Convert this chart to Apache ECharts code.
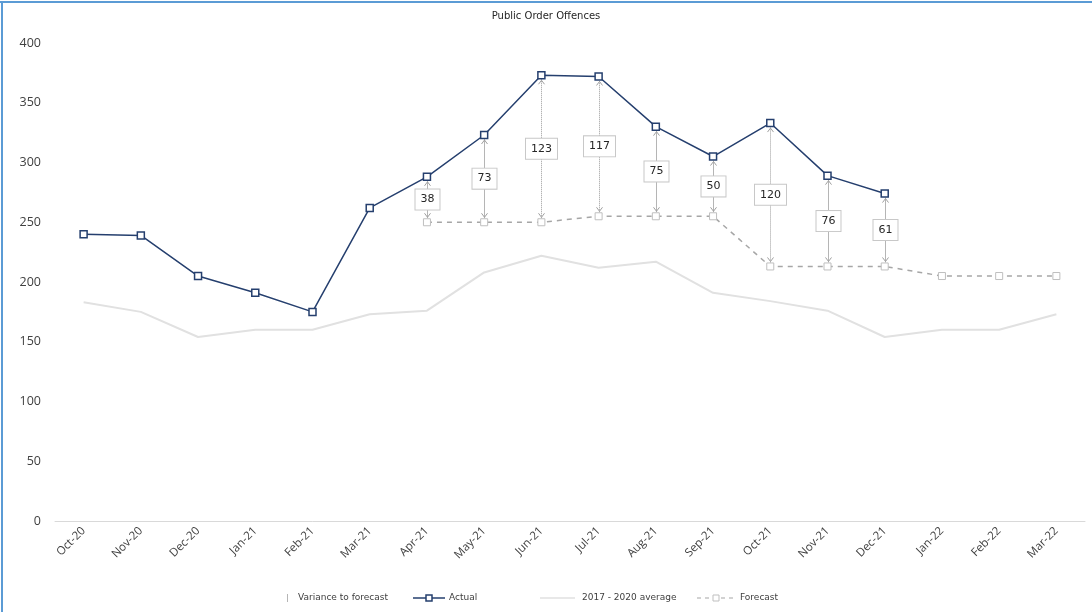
<!DOCTYPE html>
<html>
<head>
<meta charset="utf-8">
<title>Public Order Offences</title>
<script src="https://cdn.jsdelivr.net/npm/echarts@6/dist/echarts.min.js"></script>
<style>
  html, body { margin: 0; padding: 0; background: #ffffff; }
  #chart { width: 1092px; height: 612px; }
</style>
</head>
<body>
<div id="chart"></div>
<script>
// Monthly categories
const months = ['Oct-20', 'Nov-20', 'Dec-20', 'Jan-21', 'Feb-21', 'Mar-21', 'Apr-21', 'May-21', 'Jun-21',
  'Jul-21', 'Aug-21', 'Sep-21', 'Oct-21', 'Nov-21', 'Dec-21', 'Jan-22', 'Feb-22', 'Mar-22'];

// Recorded offences
const actual = [240, 239, 205, 191, 175, 262, 288, 323, 373, 372, 330, 305, 333, 289, 274, null, null, null];

// Forecast values
const forecast = [null, null, null, null, null, null, 250, 250, 250, 255, 255, 255, 213, 213, 213, 205, 205, 205];

// 2017 - 2020 average
const average = [183, 175, 154, 160, 160, 173, 176, 208, 222, 212, 217, 191, 184, 176, 154, 160, 160, 173];

// Variance to forecast (actual minus forecast), by month index
const varianceMonths = [6, 7, 8, 9, 10, 11, 12, 13, 14];
const variance = [38, 73, 123, 117, 75, 50, 120, 76, 61];

// Y axis ticks
const yTicks = [0, 50, 100, 150, 200, 250, 300, 350, 400];

const navy = '#253f6e';
const grey = '#a6a6a6';
const lightGrey = '#e1e1e1';
const textGrey = '#404040';

const varianceData = varianceMonths.map((m, k) => [m, forecast[m], variance[k]]);

function renderVariance(params, api) {
  const idx = api.value(0);
  const base = api.value(1);
  const diff = api.value(2);
  const p1 = api.coord([idx, base]);
  const p2 = api.coord([idx, base + diff]);
  const x = Math.round(p1[0]) + 0.5;
  const dotted = diff >= 100;
  const lineStyle = { stroke: dotted ? '#9a9a9a' : '#b5b5b5', lineWidth: 1, lineDash: dotted ? [1, 1] : null };
  const midY = (p1[1] + p2[1]) / 2;
  return {
    type: 'group',
    children: [
      { type: 'line', shape: { x1: x, y1: p1[1] - 4, x2: x, y2: p2[1] + 4 }, style: lineStyle },
      { type: 'polyline', shape: { points: [[x - 3, p2[1] + 9], [x, p2[1] + 5], [x + 3, p2[1] + 9]] },
        style: { stroke: '#a0a0a0', lineWidth: 1, fill: null } },
      { type: 'polyline', shape: { points: [[x - 3, p1[1] - 9], [x, p1[1] - 5], [x + 3, p1[1] - 9]] },
        style: { stroke: '#a0a0a0', lineWidth: 1, fill: null } },
      {
        type: 'text',
        x: x,
        y: midY,
        style: {
          text: String(diff),
          align: 'center',
          verticalAlign: 'middle',
          fill: '#262626',
          font: '11px "DejaVu Sans"',
          backgroundColor: '#ffffff',
          borderColor: '#c8c8c8',
          borderWidth: 1,
          padding: [5, 5, 4, 5]
        }
      }
    ]
  };
}

// Legend drawn as graphic items along the bottom
const legendY = 598;
const legendFont = '9px "DejaVu Sans"';
const legendItems = [
  { type: 'line', shape: { x1: 287.5, y1: 594, x2: 287.5, y2: 602 }, style: { stroke: '#b5b5b5', lineWidth: 1 } },
  { type: 'text', x: 298, y: legendY, style: { text: 'Variance to forecast', font: legendFont, fill: textGrey, verticalAlign: 'middle' } },
  { type: 'line', shape: { x1: 413, y1: legendY, x2: 445, y2: legendY }, style: { stroke: navy, lineWidth: 1.5 } },
  { type: 'rect', shape: { x: 426, y: legendY - 3, width: 6, height: 6 }, style: { fill: '#fff', stroke: navy, lineWidth: 1.5 } },
  { type: 'text', x: 449, y: legendY, style: { text: 'Actual', font: legendFont, fill: textGrey, verticalAlign: 'middle' } },
  { type: 'line', shape: { x1: 540, y1: legendY, x2: 575, y2: legendY }, style: { stroke: lightGrey, lineWidth: 1.5 } },
  { type: 'text', x: 582, y: legendY, style: { text: '2017 - 2020 average', font: legendFont, fill: textGrey, verticalAlign: 'middle' } },
  { type: 'line', shape: { x1: 697, y1: legendY, x2: 735, y2: legendY }, style: { stroke: grey, lineWidth: 1, lineDash: [4, 4] } },
  { type: 'rect', shape: { x: 713, y: legendY - 3, width: 6, height: 6 }, style: { fill: '#fff', stroke: '#bfbfbf', lineWidth: 1 } },
  { type: 'text', x: 740, y: legendY, style: { text: 'Forecast', font: legendFont, fill: textGrey, verticalAlign: 'middle' } }
];

// Frame edges (left and top)
const frame = [
  { type: 'line', shape: { x1: 0, y1: 2, x2: 1092, y2: 2 }, style: { stroke: '#5b9bd5', lineWidth: 2 } },
  { type: 'line', shape: { x1: 2, y1: 1, x2: 2, y2: 612 }, style: { stroke: '#5b9bd5', lineWidth: 2 } }
];

const chart = echarts.init(document.getElementById('chart'), null, { renderer: 'canvas' });

chart.setOption({
  animation: false,
  backgroundColor: '#ffffff',
  title: {
    text: 'Public Order Offences',
    left: 'center',
    top: 6,
    textStyle: { fontFamily: 'DejaVu Sans', fontSize: 10, fontWeight: 'normal', color: '#262626' }
  },
  grid: { left: 55, right: 7, top: 43, bottom: 91, containLabel: false },
  xAxis: {
    type: 'category',
    data: months,
    boundaryGap: true,
    axisLine: { lineStyle: { color: '#d9d9d9', width: 1 } },
    axisTick: { show: false },
    axisLabel: {
      rotate: 45,
      interval: 0,
      margin: 8,
      color: textGrey,
      fontFamily: 'Open Sans',
      fontSize: 11.5
    },
    splitLine: { show: false }
  },
  yAxis: {
    type: 'value',
    min: yTicks[0],
    max: yTicks[yTicks.length - 1],
    interval: 50,
    axisLine: { show: false },
    axisTick: { show: false },
    splitLine: { show: false },
    axisLabel: { color: textGrey, fontFamily: 'Open Sans', fontSize: 12.5, margin: 14 }
  },
  series: [
    {
      name: '2017 - 2020 average',
      type: 'line',
      data: average,
      symbol: 'none',
      lineStyle: { color: lightGrey, width: 2 },
      z: 1
    },
    {
      name: 'Variance to forecast',
      type: 'custom',
      data: varianceData,
      encode: { x: 0, y: [1, 2] },
      renderItem: renderVariance,
      z: 2
    },
    {
      name: 'Forecast',
      type: 'line',
      data: forecast,
      symbol: 'rect',
      symbolSize: 7,
      lineStyle: { color: grey, width: 1.5, type: [5, 5] },
      itemStyle: { color: '#ffffff', borderColor: '#bfbfbf', borderWidth: 1 },
      z: 3
    },
    {
      name: 'Actual',
      type: 'line',
      data: actual,
      symbol: 'rect',
      symbolSize: 7,
      lineStyle: { color: navy, width: 1.5 },
      itemStyle: { color: '#ffffff', borderColor: navy, borderWidth: 1.5 },
      z: 4
    }
  ],
  graphic: frame.concat(legendItems)
});
</script>
</body>
</html>
